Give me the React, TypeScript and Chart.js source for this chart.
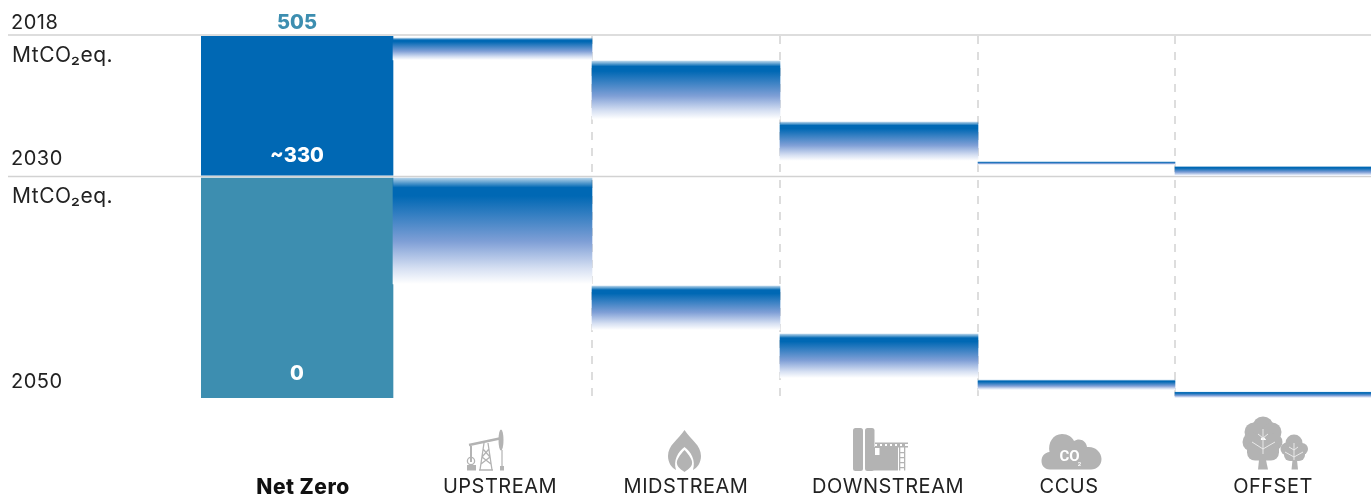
import React, { useEffect, useRef } from "react";
import { Chart, registerables } from "chart.js";

Chart.register(...registerables);

const categories = ["Net Zero", "UPSTREAM", "MIDSTREAM", "DOWNSTREAM", "CCUS", "OFFSET"];
const range2030High = [505, 502.5, 473.5, 397.5, 348, 342];
const range2030Low = [331, 475, 401, 349, 344, 330];
const range2050High = [330, 330, 168, 96, 27, 9];
const range2050Low = [0, 171, 102, 30, 12, 0];
const valueLabels = ["505", "~330", "0"];
const yearLabels = ["2018", "2030", "2050"];
const unitLabel = "MtCO\u2082eq.";

const FONT = "Inter, 'Open Sans', sans-serif";
const INK = "#222222";
const BLUE = "#0068b4";
const TEAL = "#3d8eb0";
const RULE = "#d2d2d2";
const COLUMN_EDGES = [201, 393, 592, 780, 978, 1175, 1371];
const LABEL_CENTRES = [303, 500, 686, 888, 1069, 1273];

function barFill(ctx: any, solid: string) {
  if (ctx.dataIndex === 0) return solid;
  const area = ctx.chart.chartArea;
  if (!area || !ctx.parsed || !ctx.parsed._custom) return BLUE;
  const scale = ctx.chart.scales[ctx.dataset.yAxisID];
  const top = scale.getPixelForValue(ctx.parsed._custom.max);
  const bottom = scale.getPixelForValue(ctx.parsed._custom.min);
  const g = ctx.chart.ctx.createLinearGradient(0, top, 0, bottom);
  const fade = 0.09;
  g.addColorStop(0, "rgba(0,104,180,0.3)");
  g.addColorStop(fade, BLUE);
  g.addColorStop(fade + 0.08, BLUE);
  g.addColorStop(0.6, "#7f9fd6");
  g.addColorStop(0.85, "#d5dff2");
  g.addColorStop(1, "#ffffff");
  return g;
}

const panelPlugin = {
  id: "panels",
  beforeDraw(chart: any) {
    chart.ctx.letterSpacing = "0.5px";
  },
  afterDatasetsUpdate(chart: any) {
    chart.data.datasets.forEach((_: any, d: number) => {
      chart.getDatasetMeta(d).data.forEach((bar: any, i: number) => {
        bar.x = (COLUMN_EDGES[i] + COLUMN_EDGES[i + 1]) / 2;
        bar.width = COLUMN_EDGES[i + 1] - COLUMN_EDGES[i];
      });
    });
  },
  beforeDatasetsDraw(chart: any) {
    const { ctx, chartArea, scales } = chart;
    ctx.save();
    ctx.strokeStyle = RULE;
    ctx.lineWidth = 1.5;
    ctx.setLineDash([8, 8]);
    COLUMN_EDGES.slice(2, 6).forEach((x) => {
      ctx.beginPath();
      ctx.moveTo(x, chartArea.top);
      ctx.lineTo(x, chartArea.bottom);
      ctx.stroke();
    });
    ctx.setLineDash([]);
    [scales.y2030.getPixelForValue(505) - 1, scales.y2030.getPixelForValue(330) + 0.5].forEach((y: number) => {
      ctx.beginPath();
      ctx.moveTo(8, y);
      ctx.lineTo(1371, y);
      ctx.stroke();
    });
    ctx.restore();
  },
  afterDatasetsDraw(chart: any) {
    const { ctx, scales } = chart;
    ctx.save();
    ctx.textBaseline = "middle";
    ctx.textAlign = "left";
    ctx.fillStyle = INK;
    ctx.letterSpacing = "0.5px";
    ctx.font = `400 20px ${FONT}`;
    ctx.fillText(yearLabels[0], 11, 23);
    ctx.fillText(yearLabels[1], 11, 159);
    ctx.fillText(yearLabels[2], 11, 382);
    ctx.font = `400 21px ${FONT}`;
    ctx.fillText(unitLabel, 12, 56);
    ctx.fillText(unitLabel, 12, 197);
    ctx.letterSpacing = "0px";
    ctx.textAlign = "center";
    ctx.font = `800 20px ${FONT}`;
    const cx = (COLUMN_EDGES[0] + COLUMN_EDGES[1]) / 2;
    ctx.fillStyle = TEAL;
    ctx.fillText(valueLabels[0], cx, scales.y2030.getPixelForValue(505) - 13);
    ctx.fillStyle = "#ffffff";
    ctx.fillText(valueLabels[1], cx, scales.y2030.getPixelForValue(330) - 20);
    ctx.fillText(valueLabels[2], cx, scales.y2050.getPixelForValue(0) - 24);
    ctx.restore();
  },
};

function Icons() {
  const g = "#b3b3b3";
  return (
    <svg
      width={1371}
      height={495}
      viewBox="0 0 1371 495"
      style={{ position: "absolute", left: 0, top: 0, pointerEvents: "none" }}
    >
      {/* pumpjack */}
      <g stroke={g} fill="none">
        <path d="M469 445 L502 438" strokeWidth={2.5} />
        <ellipse cx={501} cy={440} rx={2.5} ry={10.5} fill={g} stroke="none" />
        <path d="M502 450 V467" strokeWidth={1.2} />
        <rect x={500} y={466} width={4} height={4.5} fill={g} stroke="none" />
        <path d="M471 446 V462" strokeWidth={2} />
        <circle cx={471} cy={461} r={3.6} strokeWidth={1.3} />
        <rect x={467} y={465} width={9} height={5.5} fill={g} stroke="none" />
        <path d="M484 443 L480 470 M488 443 L492 470 M479 470 H493 M483 449 L490 457 M489 449 L482 457 M482 457 L491 464 M490 457 L481 464" strokeWidth={1.3} />
      </g>
      {/* flame */}
      <g fill={g}>
        <path d="M684.5 430 C678 440 668 445 668 456 C668 463 672 468 676 470 C673 460 678 452 684.5 447 C691 452 696 460 693 470 C697 468 701 463 701 456 C701 445 691 440 684.5 430 Z" />
        <path d="M684.5 450 C680 455 676 460 677 464 C678 468 682 470 684.5 472 C687 470 691 468 692 464 C693 460 689 455 684.5 450 Z" />
      </g>
      {/* refinery */}
      <g fill={g}>
        <rect x={853} y={428} width={10} height={43} rx={2.5} />
        <rect x={865} y={428} width={9.5} height={43} rx={2.5} />
        <path d="M874 447 H898 V470.5 H874 Z" />
        <rect x={875} y={442.5} width={33} height={1.5} />
        <rect x={875} y={446} width={33} height={1.5} />
        <path d="M877 444 h3 v2 h-3z M882 444 h3 v2 h-3z M887 444 h3 v2 h-3z M892 444 h3 v2 h-3z M897 444 h3 v2 h-3z M902 444 h3 v2 h-3z" />
        <rect x={899} y={447} width={1.3} height={23.5} />
        <rect x={904} y={447} width={1.3} height={23.5} />
        <path d="M900 452 h4 v1.2 h-4z M900 457 h4 v1.2 h-4z M900 462 h4 v1.2 h-4z M900 467 h4 v1.2 h-4z" />
        <rect x={875} y={448} width={4.5} height={7} fill="#ffffff" />
      </g>
      {/* cloud */}
      <path
        fill={g}
        d="M1050 469.5 C1044 469.5 1041.5 465 1041.5 461 C1041.5 456 1045 452.5 1049.5 452 C1047.5 443 1053 434 1062 434 C1068 434 1072 437 1074 441 C1079 437.5 1086 440 1087 447 C1095 446 1101.5 452 1101.5 459 C1101.5 465 1097 469.5 1091 469.5 Z"
      />
      <text x={1069.5} y={461} textAnchor="middle" fill="#ffffff" fontFamily="'Liberation Sans Narrow',Roboto,sans-serif" fontWeight={700} fontSize={15}>CO</text>
      <text x={1079.5} y={465.5} textAnchor="middle" fill="#ffffff" fontFamily="Roboto,sans-serif" fontWeight={700} fontSize={6}>2</text>
      {/* trees */}
      <g fill={g}>
        <path d="M1259 460 L1258 469.5 H1268 L1266 460 Z" />
        <path d="M1292.5 460 L1291.5 469.5 H1298 L1297 460 Z" />
        <circle cx={1263} cy={427} r={10.5} />
        <circle cx={1254} cy={432} r={9.5} />
        <circle cx={1272} cy={432} r={9.5} />
        <circle cx={1252} cy={442} r={9.5} />
        <circle cx={1274} cy={442} r={8.5} />
        <rect x={1247} y={440} width={32} height={20.5} rx={8} />
        <circle cx={1294} cy={443} r={8.5} />
        <circle cx={1287} cy={449} r={6.5} />
        <circle cx={1302} cy={449} r={6} />
        <rect x={1284} y={446} width={21} height={15} rx={6} />
      </g>
      <g stroke="#eeeeee" strokeWidth={0.9} fill="none">
        <path d="M1263 429 V454 M1263 449 L1252 442 M1263 449 L1275 442 M1263 438 L1258 434 M1263 438 L1268 434" />
        <path d="M1294 443 V460 M1294 457 L1285 452 M1294 457 L1303 452 M1294 450 L1289 447 M1294 450 L1298 447" />
      </g>
    </svg>
  );
}

export default function App() {
  const ref = useRef<HTMLCanvasElement>(null);
  useEffect(() => {
    const chart = new Chart(ref.current!, {
      type: "bar",
      data: {
        labels: categories,
        datasets: [
          {
            label: "2018 to 2030",
            yAxisID: "y2030",
            data: categories.map((_, i) => [range2030Low[i], range2030High[i]]),
            backgroundColor: (ctx: any) => barFill(ctx, BLUE),
          },
          {
            label: "2030 to 2050",
            yAxisID: "y2050",
            data: categories.map((_, i) => [range2050Low[i], range2050High[i]]),
            backgroundColor: (ctx: any) => barFill(ctx, TEAL),
          },
        ] as any,
      },
      options: {
        responsive: false,
        animation: false,
        layout: { padding: { left: 201, top: 36, right: 0, bottom: 0 } },
        plugins: { legend: { display: false }, tooltip: { enabled: false } },
        datasets: { bar: { grouped: false, categoryPercentage: 1, barPercentage: 1, borderWidth: 0 } },
        scales: {
          x: {
            grid: { display: false, drawTicks: false },
            border: { display: false },
            afterFit(scale: any) {
              scale.height = 97;
              scale.paddingLeft = 0;
              scale.paddingRight = 0;
            },
            afterUpdate(scale: any) {
              scale.getPixelForTick = (i: number) => LABEL_CENTRES[i];
            },
            ticks: {
              autoSkip: false,
              maxRotation: 0,
              padding: 77,
              color: (ctx: any) => (ctx.index === 0 ? "#111111" : INK),
              font: (ctx: any) => ({ family: FONT, size: ctx.index === 0 ? 21 : 20, weight: ctx.index === 0 ? 800 : 400 }),
            },
          },
          y2030: {
            type: "linear",
            position: "left",
            stack: "panels",
            stackWeight: 140,
            min: 330,
            max: 505,
            display: false,
            weight: 1,
          },
          y2050: {
            type: "linear",
            position: "left",
            stack: "panels",
            stackWeight: 222,
            min: 0,
            max: 333,
            display: false,
            weight: 0,
          },
        },
      } as any,
      plugins: [panelPlugin],
    });
    return () => chart.destroy();
  }, []);
  return (
    <div style={{ position: "absolute", left: 0, top: 0, width: 1371, height: 495, background: "#fff" }}>
      <canvas ref={ref} width={1371} height={495} style={{ display: "block" }} />
      <Icons />
    </div>
  );
}
